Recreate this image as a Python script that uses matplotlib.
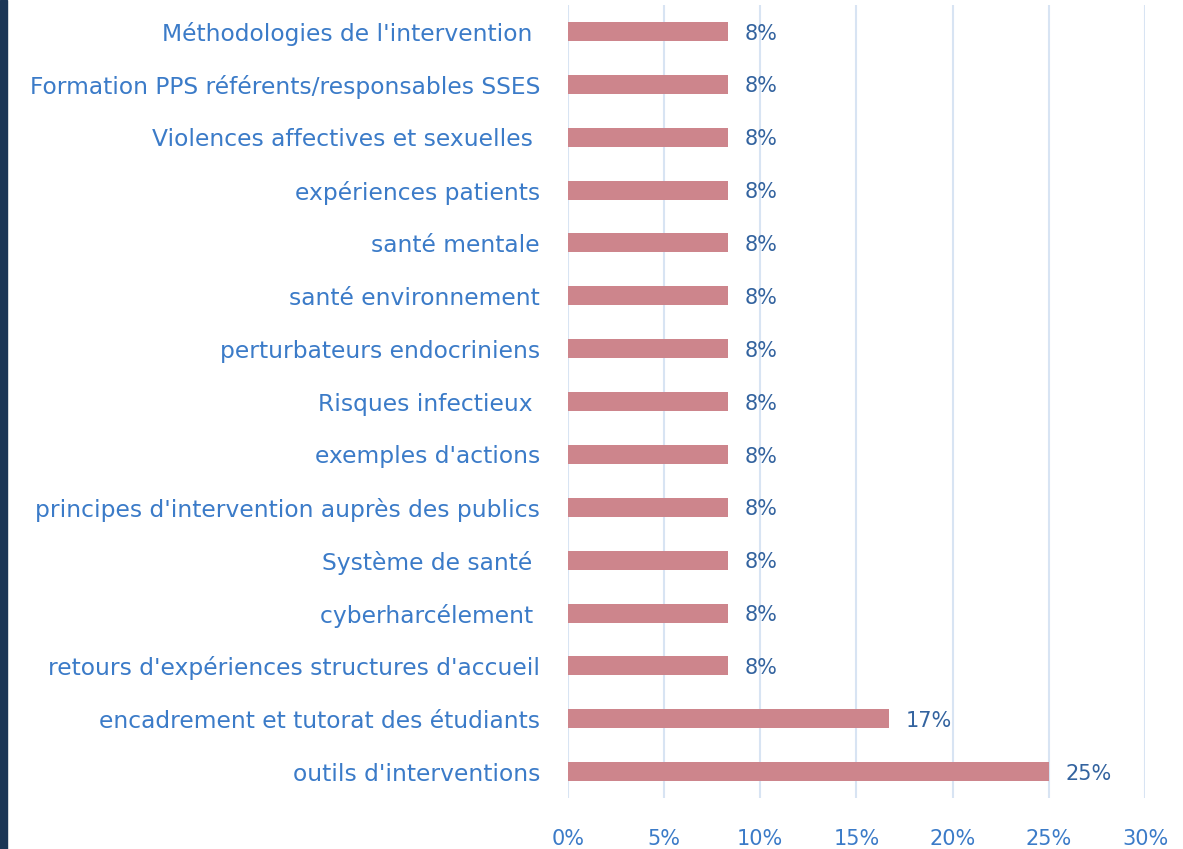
import matplotlib
matplotlib.use("Agg")
import matplotlib.pyplot as plt
from matplotlib.patches import Rectangle

# categories from top to bottom as in the chart
categories = [
    "Méthodologies de l'intervention ",
    "Formation PPS référents/responsables SSES",
    "Violences affectives et sexuelles ",
    "expériences patients",
    "santé mentale",
    "santé environnement",
    "perturbateurs endocriniens",
    "Risques infectieux ",
    "exemples d'actions",
    "principes d'intervention auprès des publics",
    "Système de santé ",
    "cyberharcélement ",
    "retours d'expériences structures d'accueil",
    "encadrement et tutorat des étudiants",
    "outils d'interventions",
]
values = [8.33, 8.33, 8.33, 8.33, 8.33, 8.33, 8.33, 8.33, 8.33, 8.33,
          8.33, 8.33, 8.33, 16.67, 25.0]
value_labels = ["8%"] * 13 + ["17%", "25%"]
xticks = [0, 5, 10, 15, 20, 25, 30]

label_blue = "#3b7bc8"
value_blue = "#33639f"
bar_color = "#cd858c"
grid_color = "#d8e4f3"

plt.rcParams['font.family'] = ['DejaVu Sans']

fig = plt.figure(figsize=(11.83, 8.49), dpi=100)
ax = fig.add_axes([0.480, 0.060, 0.488, 0.934])

n = len(categories)
ys = list(range(n - 1, -1, -1))
ax.barh(ys, values, height=0.36, color=bar_color, zorder=3)

for y, v, lab in zip(ys, values, value_labels):
    ax.annotate(lab, (v, y), xytext=(12, -1.5), textcoords="offset points",
                va="center", ha="left", fontsize=15, color=value_blue)

ax.set_xlim(0, 30)
ax.set_ylim(-0.5, n - 0.5)
ax.set_xticks(xticks)
ax.set_xticklabels([f"{t}%" for t in xticks], fontsize=15, color=label_blue)
ax.set_yticks(ys)
ax.set_yticklabels(categories, fontsize=16.8, color=label_blue)
ax.tick_params(axis="x", length=0, pad=22)
ax.tick_params(axis="y", length=0, pad=20)
ax.grid(axis="x", color=grid_color, linewidth=1.5, zorder=0)
for s in ax.spines.values():
    s.set_visible(False)

# dark strip on the left edge
fig.patches.append(Rectangle((0, 0), 7 / 1183, 1, transform=fig.transFigure,
                             color="#1b3656", zorder=5))

fig.savefig("out.png", dpi=100)
